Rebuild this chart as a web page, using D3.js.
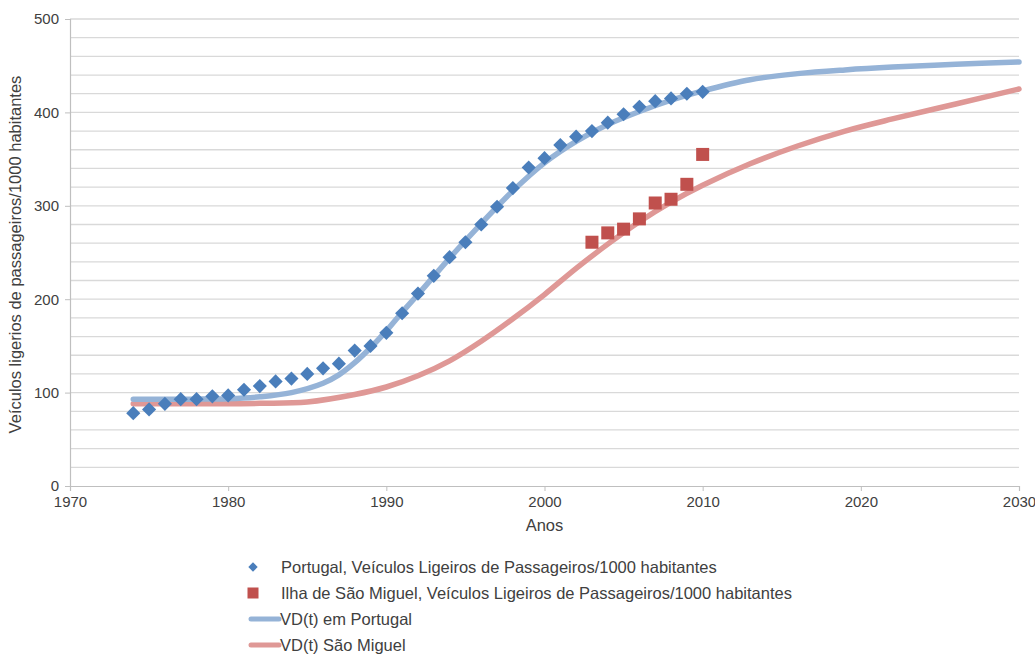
<!DOCTYPE html>
<html>
<head>
<meta charset="utf-8">
<script src="https://cdn.jsdelivr.net/npm/d3@7"></script>
<style>
  html, body { margin: 0; padding: 0; background: #ffffff; }
  svg { display: block; }
  text { font-family: "Liberation Sans", Arial, sans-serif; fill: #404040; }
</style>
</head>
<body>
<svg id="chart" width="1035" height="655"></svg>
<script>
// Portugal: light passenger vehicles per 1000 inhabitants (observed)
const portugalYears = [1974,1975,1976,1977,1978,1979,1980,1981,1982,1983,1984,1985,1986,1987,1988,1989,1990,1991,1992,1993,1994,1995,1996,1997,1998,1999,2000,2001,2002,2003,2004,2005,2006,2007,2008,2009,2010];
const portugalValues = [78,82,88,93,93,96,97,103,107,112,115,120,126,131,145,150,164,185,206,225,245,261,280,299,319,341,351,365,374,380,389,398,406,412,415,420,422];

// São Miguel island: observed values
const miguelYears = [2003,2004,2005,2006,2007,2008,2009,2010];
const miguelValues = [261,271,275,286,303,307,323,355];

// Model curve VD(t) for Portugal
const vdPortugalYears = [1974,1978,1980,1982,1984,1986,1987,1988,1989,1990,1991,1992,1994,1996,1998,2000,2002,2004,2006,2008,2010,2013,2016,2019,2022,2026,2030];
const vdPortugalValues = [93,93,93.5,95.5,100,110,119,132,148,166,186,205,244,281,316,346,369,387,401,413,423,435,441.5,445.5,448.5,451.5,454];

// Model curve VD(t) for São Miguel
const vdMiguelYears = [1974,1978,1982,1985,1988,1990,1992,1994,1996,1998,2000,2002,2004,2006,2008,2010,2013,2016,2019,2022,2026,2030];
const vdMiguelValues = [88,88,88.5,90,98,106,118,134,155,179,205,233,259,283,304,322,345,364,380,393,409,425];

const xTicks = [1970,1980,1990,2000,2010,2020,2030];
const yTicks = [0,100,200,300,400,500];
const yGrid = d3.range(20, 501, 20);

const seriesNames = [
  "Portugal, Veículos Ligeiros de Passageiros/1000 habitantes",
  "Ilha de São Miguel, Veículos Ligeiros de Passageiros/1000 habitantes",
  "VD(t) em Portugal",
  "VD(t) São Miguel"
];

const colors = {
  diamond: "#4a7ebb",
  square: "#c0504d",
  blueLine: "#95b3d7",
  redLine: "#df9896",
  grid: "#d9d9d9",
  axis: "#bfbfbf"
};

const svg = d3.select("#chart");
const margin = { left: 70, right: 16, top: 19, bottom: 169 };
const W = 1035, H = 655;

const x = d3.scaleLinear().domain([1970, 2030]).range([margin.left, W - margin.right]);
const y = d3.scaleLinear().domain([0, 500]).range([H - margin.bottom, margin.top]);

// horizontal gridlines
svg.append("g")
  .selectAll("line")
  .data(yGrid)
  .join("line")
  .attr("x1", x(1970)).attr("x2", x(2030))
  .attr("y1", d => y(d)).attr("y2", d => y(d))
  .attr("stroke", colors.grid)
  .attr("stroke-width", 1.3);

// y axis
const yAxis = svg.append("g")
  .attr("transform", `translate(${x(1970)},0)`)
  .call(d3.axisLeft(y).tickValues(yTicks).tickSize(5).tickPadding(6).tickFormat(d3.format("d")));
yAxis.select(".domain").attr("stroke", colors.axis).attr("stroke-width", 1.2);
yAxis.selectAll(".tick line").attr("stroke", colors.axis);
yAxis.selectAll(".tick text")
  .style("font-family", '"Liberation Sans", Arial, sans-serif')
  .style("font-size", "15px").attr("fill", "#404040");

// x axis
const xAxis = svg.append("g")
  .attr("transform", `translate(0,${y(0)})`)
  .call(d3.axisBottom(x).tickValues(xTicks).tickSize(5).tickPadding(5).tickFormat(d3.format("d")));
xAxis.select(".domain").attr("stroke", colors.axis).attr("stroke-width", 1.2);
xAxis.selectAll(".tick line").attr("stroke", colors.axis);
xAxis.selectAll(".tick text")
  .style("font-family", '"Liberation Sans", Arial, sans-serif')
  .style("font-size", "15px").attr("fill", "#404040");

// axis titles
svg.append("text")
  .attr("x", x(2000)).attr("y", 531)
  .attr("text-anchor", "middle")
  .style("font-size", "16.5px")
  .text("Anos");

svg.append("text")
  .attr("transform", `translate(21,${(y(0) + y(500)) / 2 + 2}) rotate(-90)`)
  .attr("text-anchor", "middle")
  .style("font-size", "16.5px")
  .text("Veículos ligerios de passageiros/1000 habitantes");

// model curves
const line = (xs, vs) => d3.line()
  .x((d, i) => x(xs[i]))
  .y(d => y(d))
  .curve(d3.curveCatmullRom.alpha(0.5))(vs);

svg.append("path")
  .attr("d", line(vdMiguelYears, vdMiguelValues))
  .attr("fill", "none")
  .attr("stroke", colors.redLine)
  .attr("stroke-width", 5.5)
  .attr("stroke-linecap", "round");

svg.append("path")
  .attr("d", line(vdPortugalYears, vdPortugalValues))
  .attr("fill", "none")
  .attr("stroke", colors.blueLine)
  .attr("stroke-width", 5.5)
  .attr("stroke-linecap", "round");

// observed markers
svg.append("g")
  .selectAll("path")
  .data(portugalValues)
  .join("path")
  .attr("d", d3.symbol().type(d3.symbolSquare).size(100))
  .attr("transform", (d, i) => `translate(${x(portugalYears[i])},${y(d)}) rotate(45)`)
  .attr("fill", colors.diamond);

svg.append("g")
  .selectAll("rect")
  .data(miguelValues)
  .join("rect")
  .attr("x", (d, i) => x(miguelYears[i]) - 6.5)
  .attr("y", d => y(d) - 6.5)
  .attr("width", 13).attr("height", 13)
  .attr("fill", colors.square);

// legend
const legend = svg.append("g");
const legendY = [567, 593, 619, 645];
legend.append("path")
  .attr("d", d3.symbol().type(d3.symbolSquare).size(44))
  .attr("transform", `translate(253,${legendY[0]}) rotate(45)`)
  .attr("fill", colors.diamond);
legend.append("rect")
  .attr("x", 247.5).attr("y", legendY[1] - 5.5)
  .attr("width", 11).attr("height", 11)
  .attr("fill", colors.square);
legend.append("line")
  .attr("x1", 251).attr("x2", 279)
  .attr("y1", legendY[2]).attr("y2", legendY[2])
  .attr("stroke", colors.blueLine).attr("stroke-width", 5).attr("stroke-linecap", "round");
legend.append("line")
  .attr("x1", 251).attr("x2", 279)
  .attr("y1", legendY[3]).attr("y2", legendY[3])
  .attr("stroke", colors.redLine).attr("stroke-width", 5).attr("stroke-linecap", "round");

legend.selectAll("text")
  .data(seriesNames)
  .join("text")
  .attr("x", (d, i) => i < 2 ? 281 : 280)
  .attr("y", (d, i) => legendY[i] + 6)
  .style("font-size", "16.5px")
  .attr("fill", "#262626")
  .text(d => d);
</script>
</body>
</html>
